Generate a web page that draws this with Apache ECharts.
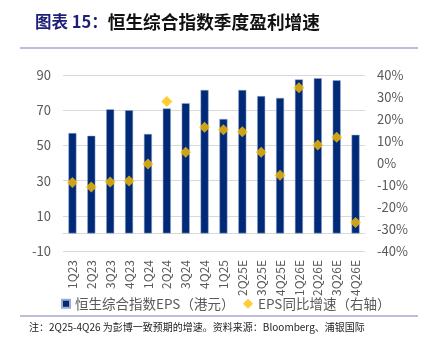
<!DOCTYPE html>
<html>
<head>
<meta charset="utf-8">
<script src="https://cdn.jsdelivr.net/npm/echarts@6/dist/echarts.min.js"></script>
<style>
  html, body { margin: 0; padding: 0; background: #fff; }
  #chart { width: 423px; height: 349px; }
</style>
</head>
<body>
<div id="chart"></div>
<script>
// Quarterly labels (E = consensus estimate)
const quarters = ['1Q23','2Q23','3Q23','4Q23','1Q24','2Q24','3Q24','4Q24','1Q25','2Q25E','3Q25E','4Q25E','1Q26E','2Q26E','3Q26E','4Q26E'];
// Hang Seng Composite Index EPS (HKD)
const epsValues = [57, 55.5, 70.5, 70, 56.5, 71, 74, 81.5, 65, 81.5, 78, 77, 87.5, 88.2, 87, 56];
// EPS year-on-year growth (%), right axis
const growthValues = [-8.9, -10.9, -8.6, -8.2, -0.5, 28, 4.9, 16.3, 15.1, 14.2, 4.9, -5.6, 34.2, 8.2, 11.7, -27];
// Axis tick settings
const leftTicks = { min: -10, max: 90, interval: 20 };
const rightTicks = { min: -40, max: 40, interval: 10 };

const FONT = '"Noto Sans CJK SC", "Noto Sans", sans-serif';
const EPS_NAME = '恒生综合指数EPS（港元）';
const GROWTH_NAME = 'EPS同比增速（右轴）';

const legendText = { fontFamily: FONT, fontSize: 13.5, color: '#595959' };

const chart = echarts.init(document.getElementById('chart'), null, { renderer: 'canvas' });

chart.setOption({
  animation: false,
  backgroundColor: '#ffffff',
  title: {
    left: 30, top: 8,
    text: '{a|图表 15：}{b|恒生综合指数季度盈利增速}',
    textStyle: {
      rich: {
        a: { fontFamily: FONT, fontSize: 16.5, fontWeight: 'bold', color: '#1f1f78' },
        b: { fontFamily: FONT, fontSize: 17.7, fontWeight: 'bold', color: '#111111' }
      }
    }
  },
  graphic: [
    { type: 'line', shape: { x1: 20, y1: 48, x2: 418, y2: 48 }, style: { stroke: '#aaa7d0', lineWidth: 1.5 } },
    { type: 'line', shape: { x1: 20, y1: 316, x2: 418, y2: 316 }, style: { stroke: '#aaa7d0', lineWidth: 1.5 } },
    { type: 'text', left: 29, top: 322,
      style: { text: '注：2Q25-4Q26 为彭博一致预期的增速。资料来源：Bloomberg、浦银国际', fontFamily: FONT, fontSize: 10, fill: '#222222' } }
  ],
  legend: [
    {
      left: 56, top: 292,
      itemWidth: 8, itemHeight: 8, itemGap: 6,
      textStyle: legendText,
      data: [{ name: EPS_NAME, icon: 'rect' }]
    },
    {
      left: 238, top: 292,
      itemWidth: 10, itemHeight: 10,
      textStyle: legendText,
      data: [{ name: GROWTH_NAME, icon: 'diamond' }]
    }
  ],
  grid: { left: 63, top: 75, width: 302, height: 176 },
  xAxis: {
    type: 'category',
    data: quarters,
    axisLine: { lineStyle: { color: '#d9d9d9' } },
    axisTick: { show: false },
    axisLabel: { rotate: 90, fontFamily: FONT, fontSize: 12, color: '#595959', margin: 9 }
  },
  yAxis: [
    {
      type: 'value', min: leftTicks.min, max: leftTicks.max, interval: leftTicks.interval,
      axisLine: { show: false }, axisTick: { show: false },
      axisLabel: { fontFamily: FONT, fontSize: 13, color: '#595959', margin: 12 },
      splitLine: { lineStyle: { color: '#d9d9d9' } }
    },
    {
      type: 'value', min: rightTicks.min, max: rightTicks.max, interval: rightTicks.interval,
      axisLine: { show: false }, axisTick: { show: false },
      axisLabel: { fontFamily: FONT, fontSize: 13, color: '#595959', margin: 12, formatter: '{value}%' },
      splitLine: { show: false }
    }
  ],
  series: [
    {
      name: EPS_NAME, type: 'bar', yAxisIndex: 0,
      data: epsValues, barWidth: 8,
      itemStyle: { color: '#002a77', borderColor: '#9aaad0', borderWidth: 0.5 }
    },
    {
      name: GROWTH_NAME, type: 'scatter', yAxisIndex: 1,
      data: growthValues, symbol: 'diamond', symbolSize: 11,
      itemStyle: { color: '#ffc000' }, z: 5
    }
  ]
});
</script>
</body>
</html>
